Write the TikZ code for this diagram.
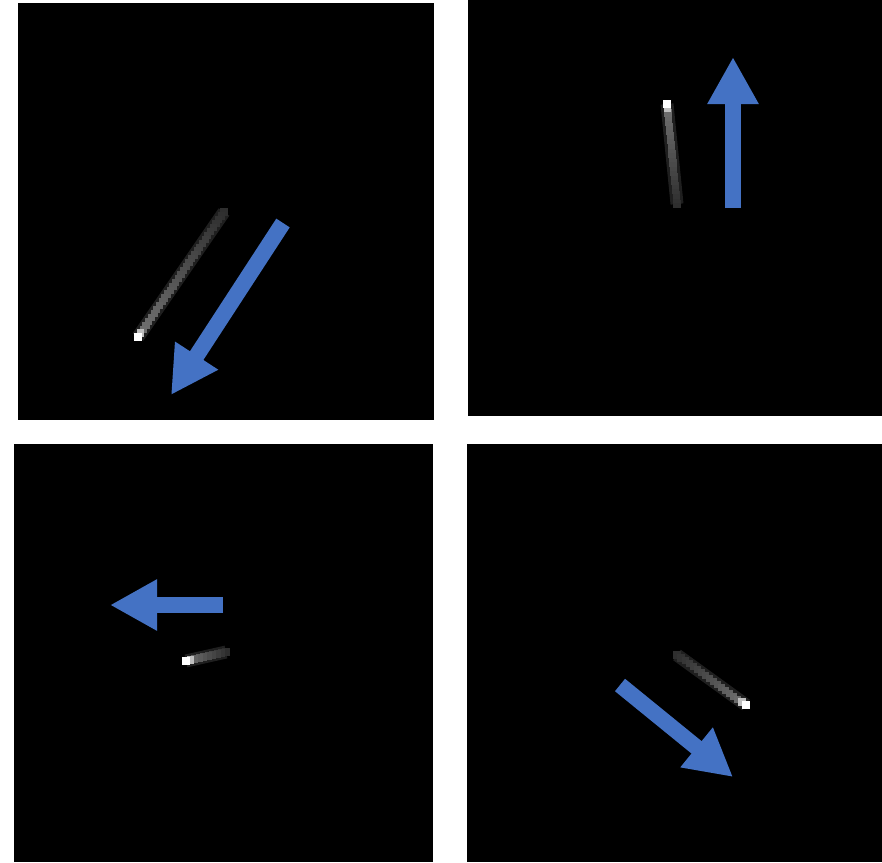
\documentclass[tikz,border=0pt]{standalone}
\usetikzlibrary{arrows.meta,calc}
\definecolor{arrowblue}{HTML}{4472C4}
\tikzset{
  bigarrow/.style={draw=arrowblue, line width=16pt,
    -{Triangle[length=47pt,width=48pt]}},
  panel/.style={fill=black},
  halo/.style={draw=white!12!black, line width=13pt}
}
% one streak: bright end (#1,#2), dim end (#3,#4), #5 steps
\newcommand{\streak}[5]{%
  \draw[halo] (#1,#2) -- (#3,#4);
  \foreach \i in {#5,...,0}{
    \pgfmathsetmacro{\st}{\i/#5}
    \pgfmathsetmacro{\gv}{\i==0 ? 100 : (\i==1 ? 75 : 45-27*\st)}
    \fill[white!\gv!black] ($(#1,#2)!\st!(#3,#4)$) ++(-3.6,-3.6) rectangle ++(7.2,7.2);
  }}
\begin{document}
\begin{tikzpicture}[x=1pt,y=-1pt]
\fill[white] (0,0) rectangle (882,862);
\useasboundingbox (0,0) rectangle (882,862);

% panels
\fill[panel] (18,3) rectangle (434,420);
\fill[panel] (468,0) rectangle (882,416);
\fill[panel] (14,444) rectangle (433,862);
\fill[panel] (467,444) rectangle (882,862);

% streaks
\streak{138}{337}{224}{212}{32}
\streak{667}{104}{677}{204}{22}
\streak{186}{661}{226}{652}{9}
\streak{746}{705}{677}{655}{17}

% arrows
\coordinate (tlTail) at (283,223);
\coordinate (tlTip) at (171,395);
\coordinate (trTail) at (733,208);
\coordinate (trTip) at (733,57);
\coordinate (blTail) at (223,605);
\coordinate (blTip) at (110,605);
\coordinate (brTail) at (620,685);
\coordinate (brTip) at (733,777);

\draw[bigarrow] (tlTail) -- (tlTip);
\draw[bigarrow] (trTail) -- (trTip);
\draw[bigarrow] (blTail) -- (blTip);
\draw[bigarrow] (brTail) -- (brTip);
\end{tikzpicture}
\end{document}
